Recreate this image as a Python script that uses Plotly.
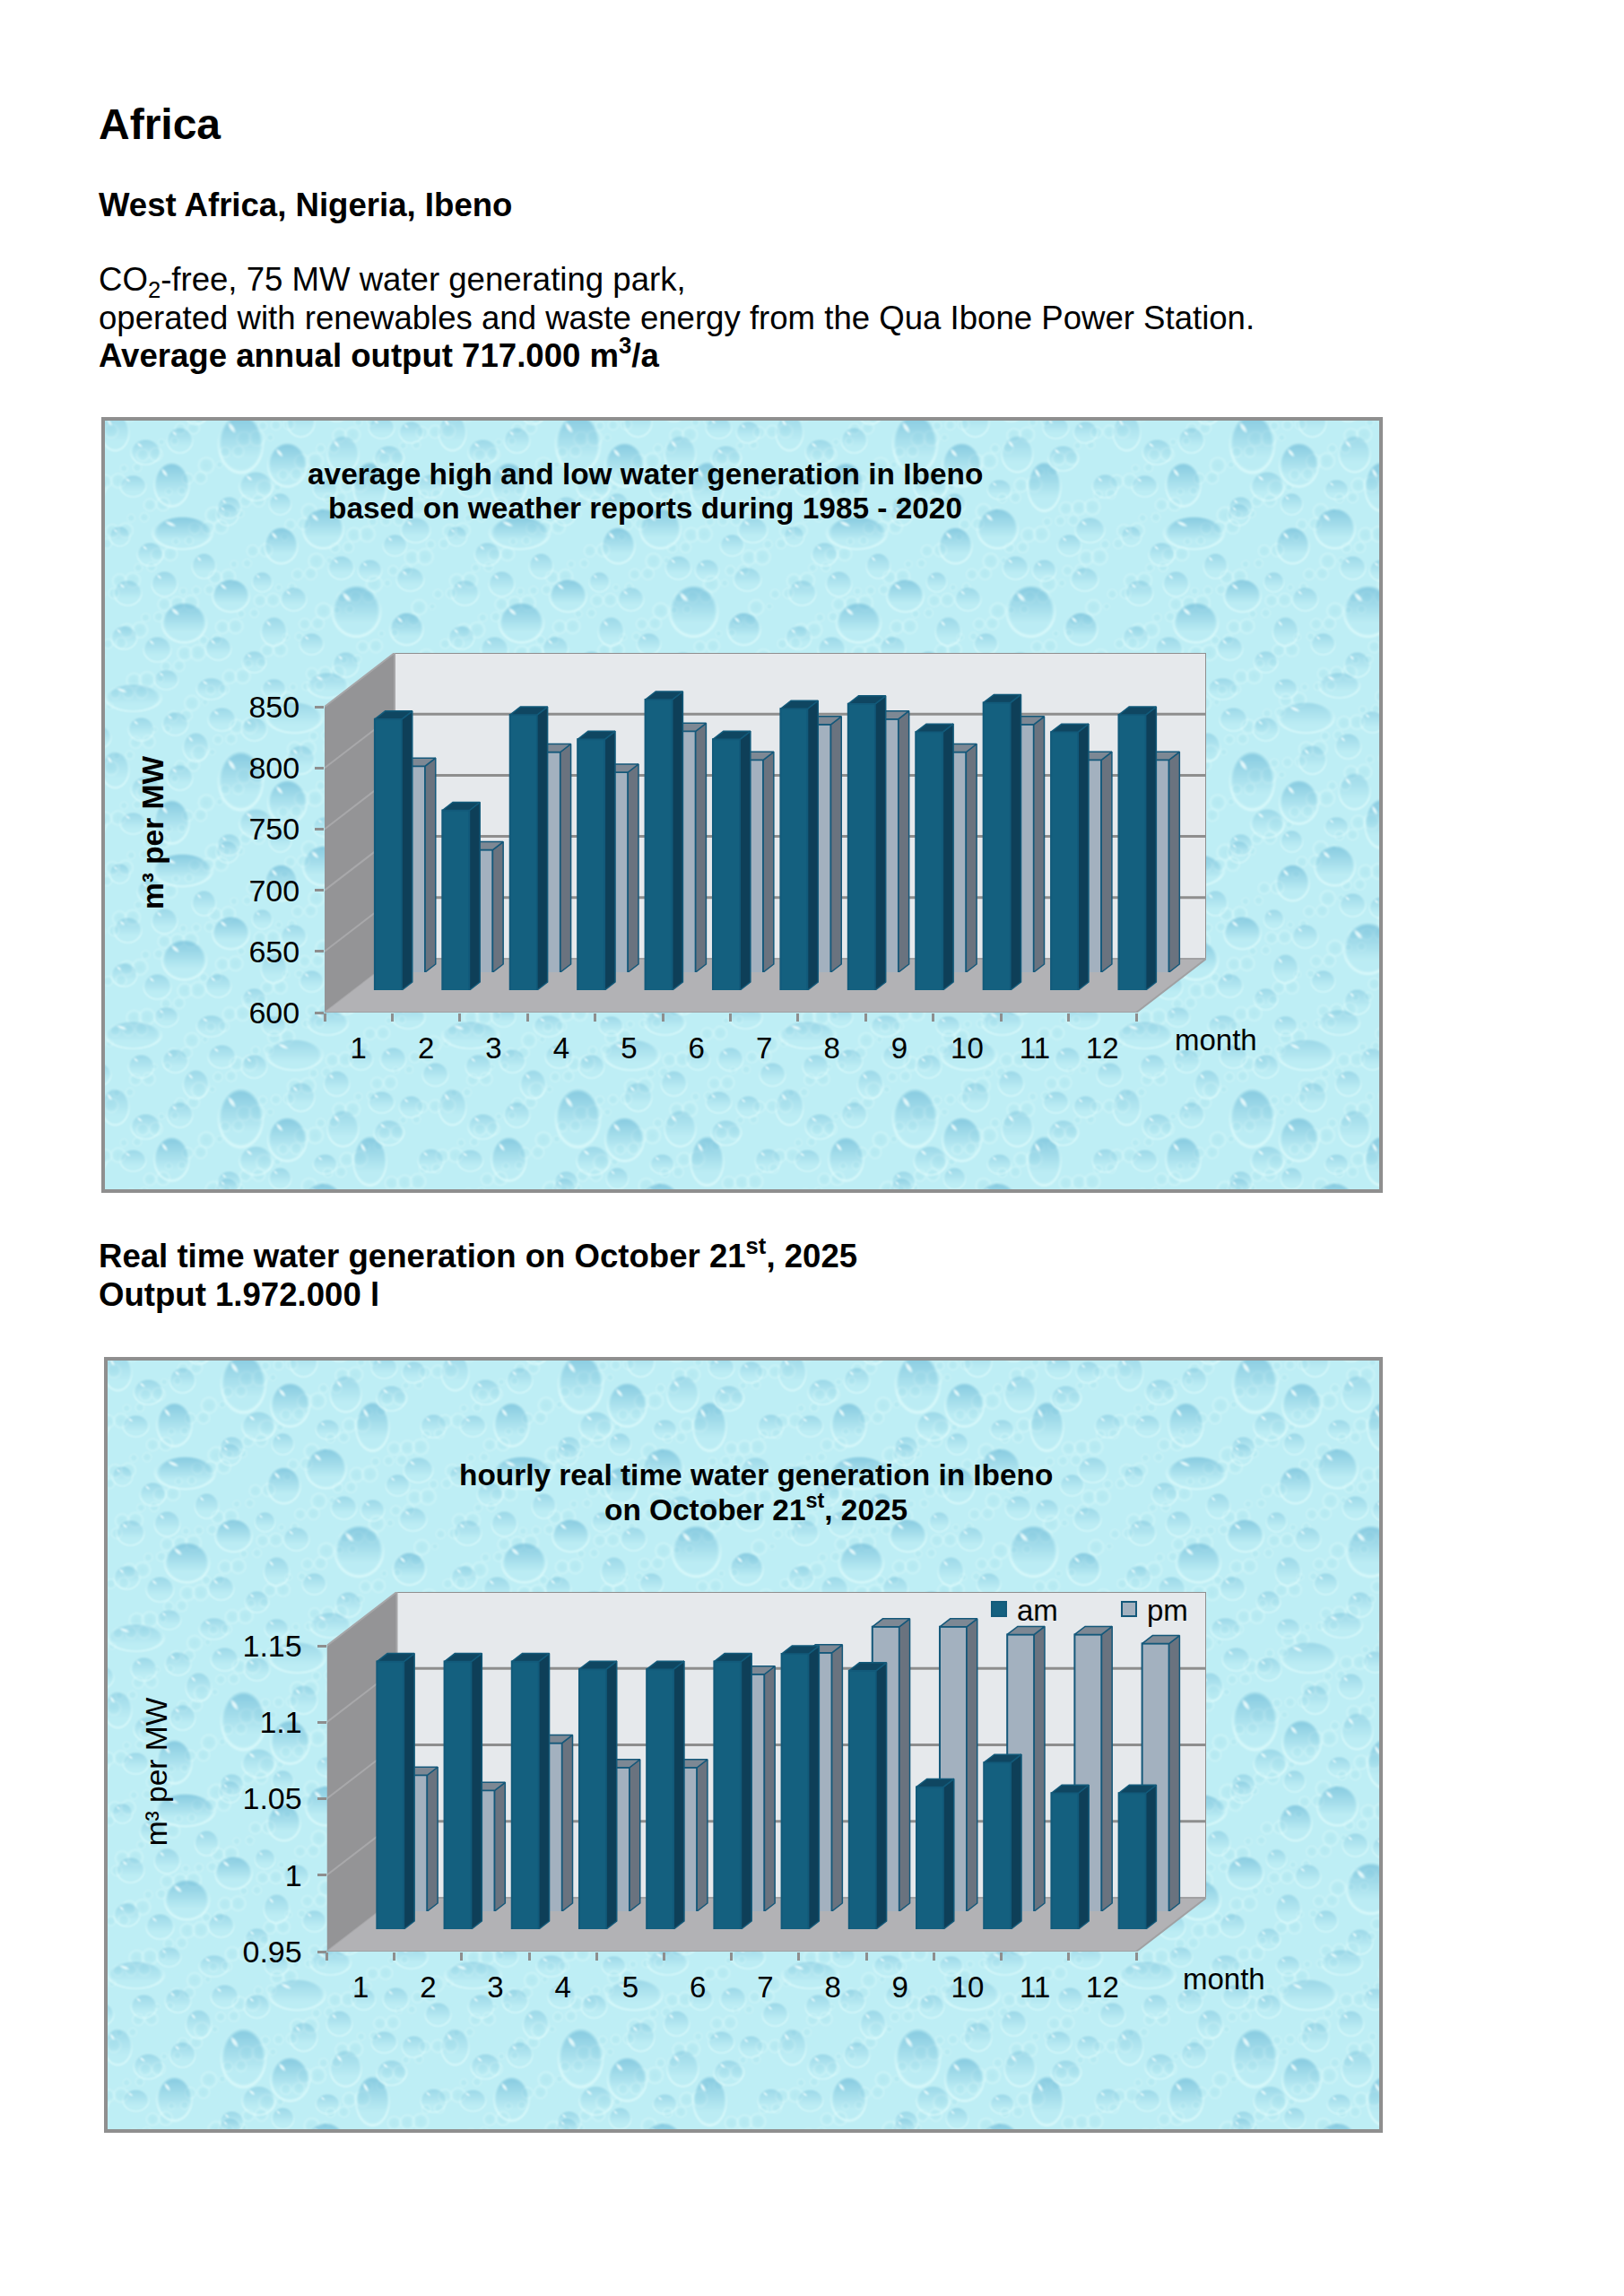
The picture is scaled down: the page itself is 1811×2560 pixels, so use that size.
import base64, struct, zlib
import numpy as np
import plotly.graph_objects as go

# ---------- data ----------
MONTHS = list(range(1, 13))
AVG_HIGH = [821.5, 747, 825, 805, 837.5, 805, 830, 834, 811, 835, 811, 825]
AVG_LOW = [768.5, 700, 780, 763.5, 797, 773.5, 802.5, 807, 780, 802.5, 773.5, 773.5]
AVG_TICKS = [600, 650, 700, 750, 800, 850]
AVG_TICK_TEXT = ["600", "650", "700", "750", "800", "850"]

RT_AM = [1.125, 1.125, 1.125, 1.120, 1.120, 1.125, 1.130, 1.119, 1.043, 1.059, 1.039, 1.039]
RT_PM = [1.039, 1.029, 1.060, 1.044, 1.044, 1.105, 1.119, 1.136, 1.136, 1.131, 1.131, 1.125]
RT_TICKS = [0.95, 1.0, 1.05, 1.1, 1.15]
RT_TICK_TEXT = ["0.95", "1", "1.05", "1.1", "1.15"]

# ---------- page ----------
W, H = 1811, 2560
FONT = "Liberation Sans"
BLACK = "#000000"
def px(x): return x / W
def py(y): return 1 - y / H

# ---------- water-drop wallpaper (decorative raster, one repeating tile) ----------
TILE = 376
DROPS = [(153,26,24,32),(205,50,21,24),(76,72,19,24),(88,126,32,18),(245,121,22,22),(198,140,18,20),
 (90,226,24,22),(282,213,26,28),(142,196,20,18),(338,233,18,18),(213,332,30,17),(267,38,17,20),
 (297,74,18,27),(170,74,18,16),(80,339,14,13),(42,345,14,13),(132,334,15,13),(168,345,14,13),
 (103,365,14,16),(220,3,15,16),(260,364,14,14),(47,36,16,14),(85,23,14,14),(13,14,15,20),(33,74,14,12),
 (247,78,13,11),(197,94,12,12),(140,98,13,12),(287,337,13,12),(323,337,14,13),(370,354,14,13),(310,9,14,12),
 (343,14,13,12),(318,43,16,14),(365,74,14,13),(112,163,13,14),(52,150,14,13),(265,165,14,13),(297,168,13,12),
 (342,178,15,13),(27,193,15,14),(212,200,14,13),(177,181,11,11),(68,183,14,14),(23,243,14,13),(60,256,15,14),
 (128,255,14,13),(190,236,14,16),(232,250,13,12),(270,273,14,14),(168,270,13,12),(325,140,13,12),(138,106,12,12),
 (18,130,11,11),(348,123,16,14),(33,310,30,15),(250,296,22,14),(120,300,16,12),(340,290,18,13),(70,290,13,11),(190,300,13,11)]

def build_tile():
    yy, xx = np.mgrid[0:TILE, 0:TILE].astype(float)
    light = np.array([190.0, 238.0, 245.0])
    mid = np.array([168.0, 226.0, 236.0])
    deep = np.array([112.0, 188.0, 216.0])
    img = np.ones((TILE, TILE, 3)) * light
    def shift(d):
        return (d + TILE / 2) % TILE - TILE / 2
    # small bubbles from a fixed golden-ratio lattice
    bubbles = [((i * 0.61803 % 1) * TILE, (i * 0.75488 % 1) * TILE, 3 + (i * 0.5698 % 1) * 5) for i in range(1, 220)]
    for cx, cy, r in bubbles:
        d = np.sqrt(shift(xx - cx) ** 2 + shift(yy - cy) ** 2) / r
        a = np.clip(1 - d, 0, 1) ** 0.5 * 0.4
        img = img * (1 - a[..., None]) + mid * a[..., None]
        rim = np.clip(1 - np.abs(d - 1.1) / 0.3, 0, 1) * 0.5
        img = img * (1 - rim[..., None]) + np.array([214.0, 248.0, 250.0]) * rim[..., None]
    for cx, cy, rx, ry in DROPS:
        u = shift(xx - cx) / rx
        v = shift(yy - cy) / ry
        r = np.sqrt(u * u + v * v)
        big = min(rx, ry) > 17
        soft = np.clip((1 - r) / 0.14, 0, 1)
        strength = 1.0 if big else 0.62
        a = soft * np.clip(0.62 * (0.42 - 0.75 * v), 0.03, 0.66) * strength
        img = img * (1 - a[..., None]) + deep * a[..., None]
        rim = np.clip(1 - np.abs(r - 1.04) / 0.1, 0, 1) * np.clip(0.45 + v, 0.1, 1) * 0.85
        img = img * (1 - rim[..., None]) + np.array([222.0, 251.0, 252.0]) * rim[..., None]
        hu = (u + 0.42 + (v + 0.52)) / 0.36
        hv = (u + 0.42 - (v + 0.52)) / 0.15
        hl = np.clip(1.1 - hu * hu - hv * hv, 0, 1) * 0.85
        img = img * (1 - hl[..., None]) + np.array([238.0, 253.0, 254.0]) * hl[..., None]
    blur = sum(np.roll(np.roll(img, i, 0), j, 1) for i in (-1, 0, 1) for j in (-1, 0, 1)) / 9
    return blur

def png_uri(arr):
    h, w, _ = arr.shape
    raw = b"".join(b"\x00" + arr[r].astype(np.uint8).tobytes() for r in range(h))
    def chunk(t, d):
        return struct.pack(">I", len(d)) + t + d + struct.pack(">I", zlib.crc32(t + d) & 0xffffffff)
    data = b"\x89PNG\r\n\x1a\n" + chunk(b"IHDR", struct.pack(">IIBBBBB", w, h, 8, 2, 0, 0, 0)) \
        + chunk(b"IDAT", zlib.compress(raw, 9)) + chunk(b"IEND", b"")
    return "data:image/png;base64," + base64.b64encode(data).decode()

tile = build_tile()
def panel_image(w, h):
    rows = np.arange(h) % TILE
    cols = np.arange(w) % TILE
    return png_uri(tile[np.ix_(rows, cols)])

fig = go.Figure()
shapes, images, annotations = [], [], []
layout_axes = {}

GRID = "#8e8e8e"
C = dict(am_front="#14607f", am_side="#0e3f58", am_top="#0f4661", am_line="#125a7a",
         pm_front="#a3b1bf", pm_side="#6a737f", pm_top="#7d8894", pm_line="#14587a")

def add_panel(idx, box, x0, yfront, ytop_back, values_am, values_pm, ticks, tick_text, ytitle, ybold, standoff):
    L, T, R, B = box
    pw, ph = R - L, B - T
    images.append(dict(source=panel_image(pw, ph), xref="paper", yref="paper", x=px(L), y=py(T),
                       sizex=pw / W, sizey=ph / H, sizing="stretch", layer="below",
                       xanchor="left", yanchor="top"))
    shapes.append(dict(type="rect", xref="paper", yref="paper", x0=px(L), x1=px(R), y0=py(B), y1=py(T),
                       line=dict(color="#8f8f8f", width=4), layer="below"))
    catw, dxp, dyp = (1267 - x0) / 12, 78.0, 60.0
    vmin, vmax = ticks[0], ticks[-1]
    wall_h = yfront - dyp - ytop_back
    k = wall_h / (vmax - vmin)
    dv = dyp / k
    dxm = dxp / catw
    span = (12 * catw + dxp) / catw
    dom_x = [px(x0), px(x0 + 12 * catw + dxp)]
    ids = [idx * 3 + 1, idx * 3 + 2, idx * 3 + 3]
    names = [str(i) if i > 1 else "" for i in ids]

    def ax(n, letter):
        return f"{letter}axis{n}"

    # wall plane
    n = names[0]
    layout_axes[ax(n, "x")] = dict(
        domain=dom_x, range=[0.5, 0.5 + span], anchor="y" + n, tickmode="array", tickvals=MONTHS,
        ticktext=[str(m) for m in MONTHS], ticks="outside", ticklen=10, tickcolor="rgba(0,0,0,0)",
        showgrid=False, zeroline=False, showline=False,
        tickfont=dict(family=FONT, size=33, color=BLACK),
        minor=dict(tickmode="array", tickvals=[m - 0.5 for m in MONTHS] + [12.5], ticks="outside",
                   ticklen=9, tickcolor=GRID, tickwidth=3, showgrid=False))
    layout_axes[ax(n, "y")] = dict(
        domain=[py(yfront), py(ytop_back)], range=[vmin, vmin + (yfront - ytop_back) / k], anchor="x" + n,
        tickmode="array", tickvals=ticks, ticktext=tick_text, ticks="outside", ticklen=10, tickcolor=GRID,
        tickwidth=3, showgrid=False, zeroline=False, showline=False, ticklabelstandoff=10,
        tickfont=dict(family=FONT, size=34, color=BLACK),
        title=dict(text=ytitle, standoff=standoff,
                   font=dict(family=FONT, size=33.5, color=BLACK, weight="bold" if ybold else "normal")))
    xa, ya = "x" + n, "y" + n
    xl, xr = 0.5, 12.5
    def poly(xs, ys, fill, line=None, width=0):
        fig.add_trace(go.Scatter(x=xs, y=ys, mode="lines", fill="toself", fillcolor=fill, hoverinfo="skip",
                                 line=dict(color=line or fill, width=width), showlegend=False, xaxis=xa, yaxis=ya))
    # back wall, left wall, floor
    poly([xl + dxm, xr + dxm, xr + dxm, xl + dxm], [vmin + dv, vmin + dv, vmax + dv, vmax + dv], "#e6e9ec", GRID, 2)
    poly([xl, xl + dxm, xl + dxm, xl], [vmin, vmin + dv, vmax + dv, vmax], "#949496", "#a6a6a8", 2)
    poly([xl, xr, xr + dxm, xl + dxm], [vmin, vmin, vmin + dv, vmin + dv], "#b2b2b5", "#a0a0a2", 2)
    gx, gy, sx, sy = [], [], [], []
    for t in ticks[1:-1]:
        gx += [xl + dxm, xr + dxm, None]
        gy += [t + dv, t + dv, None]
        sx += [xl, xl + dxm, None]
        sy += [t, t + dv, None]
    fig.add_trace(go.Scatter(x=gx, y=gy, mode="lines", line=dict(color=GRID, width=3), hoverinfo="skip",
                             showlegend=False, xaxis=xa, yaxis=ya))
    fig.add_trace(go.Scatter(x=sx, y=sy, mode="lines", line=dict(color="#a8a8aa", width=2), hoverinfo="skip",
                             showlegend=False, xaxis=xa, yaxis=ya))

    # bar planes: each row of bars has its own shifted axes, so real values map onto the oblique floor
    HALF, DEPTH, CENTRE = 0.2, 0.15, 0.51
    planes = [(names[1], 0.75, values_pm, "pm"), (names[2], 0.417, values_am, "am")]
    for n2, d, vals, key in planes:
        bottom = yfront - dyp * d
        mlo = 1 - CENTRE - d * dxm
        layout_axes[ax(n2, "x")] = dict(domain=dom_x, range=[mlo, mlo + span], anchor="y" + n2, visible=False)
        layout_axes[ax(n2, "y")] = dict(domain=[py(bottom), py(ytop_back)],
                                        range=[vmin, vmin + (bottom - ytop_back) / k], anchor="x" + n2, visible=False)
        xa2, ya2 = "x" + n2, "y" + n2
        ddx, ddv = DEPTH * dxm, DEPTH * dv
        sidex, sidey, topx, topy = [], [], [], []
        for m, v in zip(MONTHS, vals):
            sidex += [m + HALF, m + HALF, m + HALF + ddx, m + HALF + ddx, m + HALF, None]
            sidey += [vmin, v, v + ddv, vmin + ddv, vmin, None]
            topx += [m - HALF, m + HALF, m + HALF + ddx, m - HALF + ddx, m - HALF, None]
            topy += [v, v, v + ddv, v + ddv, v, None]
        fig.add_trace(go.Bar(x=MONTHS, y=vals, width=2 * HALF, name=key, showlegend=False, xaxis=xa2, yaxis=ya2,
                             marker=dict(color=C[key + "_front"], line=dict(color=C[key + "_line"], width=2))))
        for fx, fy, col in ((sidex, sidey, C[key + "_side"]), (topx, topy, C[key + "_top"])):
            fig.add_trace(go.Scatter(x=fx, y=fy, mode="lines", fill="toself", fillcolor=col, hoverinfo="skip",
                                     line=dict(color=C[key + "_line"], width=1.5), showlegend=False,
                                     xaxis=xa2, yaxis=ya2))
    return names

add_panel(0, (115, 467, 1540, 1328), 362, 1129, 728, AVG_HIGH, AVG_LOW, AVG_TICKS, AVG_TICK_TEXT,
          "m³ per MW", True, 84)
names2 = add_panel(1, (118, 1515, 1540, 2376), 364.5, 2176, 1775, RT_AM, RT_PM, RT_TICKS, RT_TICK_TEXT,
                   "m³ per MW", False, 73)

# legend entries of the second chart
for key in ("am", "pm"):
    fig.add_trace(go.Scatter(x=[None], y=[None], mode="markers", name=key, xaxis="x" + names2[2], yaxis="y" + names2[2],
                             marker=dict(symbol="square", size=16, color=C[key + "_front"],
                                         line=dict(color=C[key + "_line"], width=2))))

def text(x, y, s, size=36.6, bold=False, anchor="left", color=BLACK):
    annotations.append(dict(xref="paper", yref="paper", x=px(x), y=py(y), xanchor=anchor, yanchor="middle",
                            text=f"<b>{s}</b>" if bold else s, showarrow=False,
                            font=dict(family=FONT, size=size, color=color)))

text(107.5, 138, "Africa", size=48, bold=True)
text(107.5, 228, "West Africa, Nigeria, Ibeno", bold=True)
text(107.5, 314, "CO<sub>2</sub>-free, 75 MW water generating park,")
text(107.5, 354, "operated with renewables and waste energy from the Qua Ibone Power Station.")
text(107.5, 394, "Average annual output 717.000 m<sup>3</sup>/a", bold=True)
text(107.5, 1398, "Real time water generation on October 21<sup>st</sup>, 2025", bold=True)
text(107.5, 1443, "Output 1.972.000 l", bold=True)
text(719, 528, "average high and low water generation in Ibeno", size=33.4, bold=True, anchor="center")
text(719, 567, "based on weather reports during 1985 - 2020", size=33.4, bold=True, anchor="center")
text(843, 1644, "hourly real time water generation in Ibeno", size=33.4, bold=True, anchor="center")
text(843, 1681, "on October 21<sup>st</sup>, 2025", size=33.4, bold=True, anchor="center")
text(1356, 1159, "month", size=33, anchor="center")
text(1364.5, 2206, "month", size=33, anchor="center")

fig.update_layout(
    width=W, height=H, margin=dict(l=0, r=0, t=0, b=0, autoexpand=False), paper_bgcolor="#ffffff", plot_bgcolor="rgba(0,0,0,0)",
    barmode="overlay", shapes=shapes, images=images, annotations=annotations,
    font=dict(family=FONT, color=BLACK),
    legend=dict(orientation="h", x=px(1094), y=py(1766), xanchor="left", yanchor="top", bgcolor="rgba(0,0,0,0)",
                font=dict(family=FONT, size=33, color=BLACK), itemwidth=30, entrywidth=100, entrywidthmode="pixels",
                traceorder="normal"),
    **layout_axes)

fig.write_html("out.html", config=dict(displayModeBar=False), post_script="document.body.style.margin='0';")
